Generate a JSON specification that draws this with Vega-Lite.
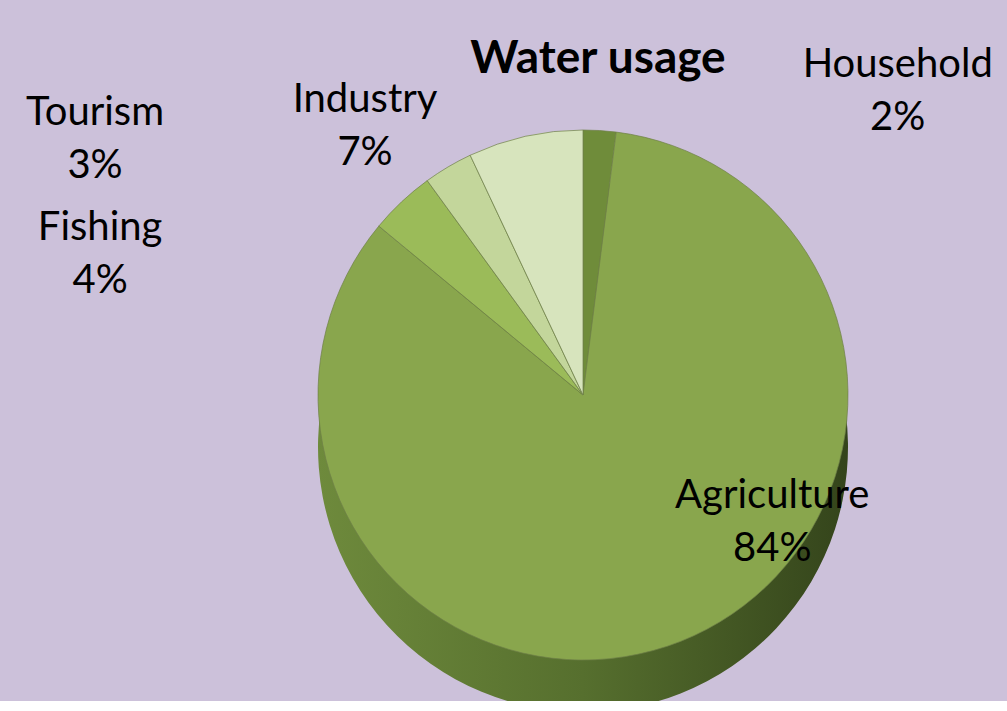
{
  "$schema": "https://vega.github.io/schema/vega-lite/v6.json",
  "autosize": {"type": "none"},
  "width": 848,
  "height": 612,
  "padding": {"left": 159, "right": 0, "top": 89, "bottom": 0},
  "background": "#CCC1DA",
  "title": {
    "text": "Water usage",
    "fontSize": 46,
    "font": "Lato",
    "fontWeight": "bold",
    "color": "#000000",
    "anchor": "middle",
    "frame": "group",
    "dx": 15,
    "dy": 48,
    "offset": 10
  },
  "config": {"view": {"stroke": null}},
  "data": {
    "values": [
      {"category": "Household", "value": 2, "rank": 1},
      {"category": "Agriculture", "value": 84, "rank": 2},
      {"category": "Fishing", "value": 4, "rank": 3},
      {"category": "Tourism", "value": 3, "rank": 4},
      {"category": "Industry", "value": 7, "rank": 5}
    ]
  },
  "transform": [
    {"calculate": "[datum.category, datum.value + '%']", "as": "label"}
  ],
  "layer": [
    {
      "mark": {
        "type": "arc",
        "radius": 265,
        "yOffset": 52,
        "stroke": null,
        "fill": {
          "gradient": "linear",
          "x1": 0, "y1": 0, "x2": 1, "y2": 0,
          "stops": [
            {"offset": 0, "color": "#6E8A3C"},
            {"offset": 0.5, "color": "#566F2E"},
            {"offset": 1, "color": "#34441B"}
          ]
        }
      },
      "encoding": {
        "theta": {"field": "value", "type": "quantitative", "stack": true},
        "order": {"field": "rank", "type": "quantitative"},
        "detail": {"field": "category", "type": "nominal"}
      }
    },
    {
      "mark": {"type": "arc", "radius": 265, "stroke": "#6F8047", "strokeWidth": 0.7},
      "encoding": {
        "theta": {"field": "value", "type": "quantitative", "stack": true},
        "order": {"field": "rank", "type": "quantitative"},
        "color": {
          "field": "category",
          "type": "nominal",
          "legend": null,
          "scale": {
            "domain": ["Household", "Agriculture", "Fishing", "Tourism", "Industry"],
            "range": ["#6F8C3A", "#89A64D", "#9BBB59", "#C3D69B", "#D7E4BD"]
          }
        }
      }
    },
    {
      "mark": {"type": "text", "radius": 330, "dx": 294, "dy": -1, "font": "Lato", "fontSize": 40, "lineHeight": 53, "color": "#000000", "align": "center", "baseline": "middle"},
      "encoding": {
        "theta": {"field": "value", "type": "quantitative", "stack": true},
        "order": {"field": "rank", "type": "quantitative"},
        "detail": {"field": "category", "type": "nominal"},
        "text": {"condition": {"test": "datum.category === 'Household'", "field": "label"}, "value": ""}
      }
    },
    {
      "mark": {"type": "text", "radius": 330, "dx": -146, "dy": 27, "font": "Lato", "fontSize": 40, "lineHeight": 53, "color": "#000000", "align": "center", "baseline": "middle"},
      "encoding": {
        "theta": {"field": "value", "type": "quantitative", "stack": true},
        "order": {"field": "rank", "type": "quantitative"},
        "detail": {"field": "category", "type": "nominal"},
        "text": {"condition": {"test": "datum.category === 'Industry'", "field": "label"}, "value": ""}
      }
    },
    {
      "mark": {"type": "text", "radius": 330, "dx": -320, "dy": 2, "font": "Lato", "fontSize": 40, "lineHeight": 53, "color": "#000000", "align": "center", "baseline": "middle"},
      "encoding": {
        "theta": {"field": "value", "type": "quantitative", "stack": true},
        "order": {"field": "rank", "type": "quantitative"},
        "detail": {"field": "category", "type": "nominal"},
        "text": {"condition": {"test": "datum.category === 'Tourism'", "field": "label"}, "value": ""}
      }
    },
    {
      "mark": {"type": "text", "radius": 330, "dx": -257, "dy": 74, "font": "Lato", "fontSize": 40, "lineHeight": 53, "color": "#000000", "align": "center", "baseline": "middle"},
      "encoding": {
        "theta": {"field": "value", "type": "quantitative", "stack": true},
        "order": {"field": "rank", "type": "quantitative"},
        "detail": {"field": "category", "type": "nominal"},
        "text": {"condition": {"test": "datum.category === 'Fishing'", "field": "label"}, "value": ""}
      }
    },
    {
      "mark": {"type": "text", "radius": 150, "dx": 134, "dy": -38, "font": "Lato", "fontSize": 40, "lineHeight": 53, "color": "#000000", "align": "center", "baseline": "middle"},
      "encoding": {
        "theta": {"field": "value", "type": "quantitative", "stack": true},
        "order": {"field": "rank", "type": "quantitative"},
        "detail": {"field": "category", "type": "nominal"},
        "text": {"condition": {"test": "datum.category === 'Agriculture'", "field": "label"}, "value": ""}
      }
    }
  ]
}
